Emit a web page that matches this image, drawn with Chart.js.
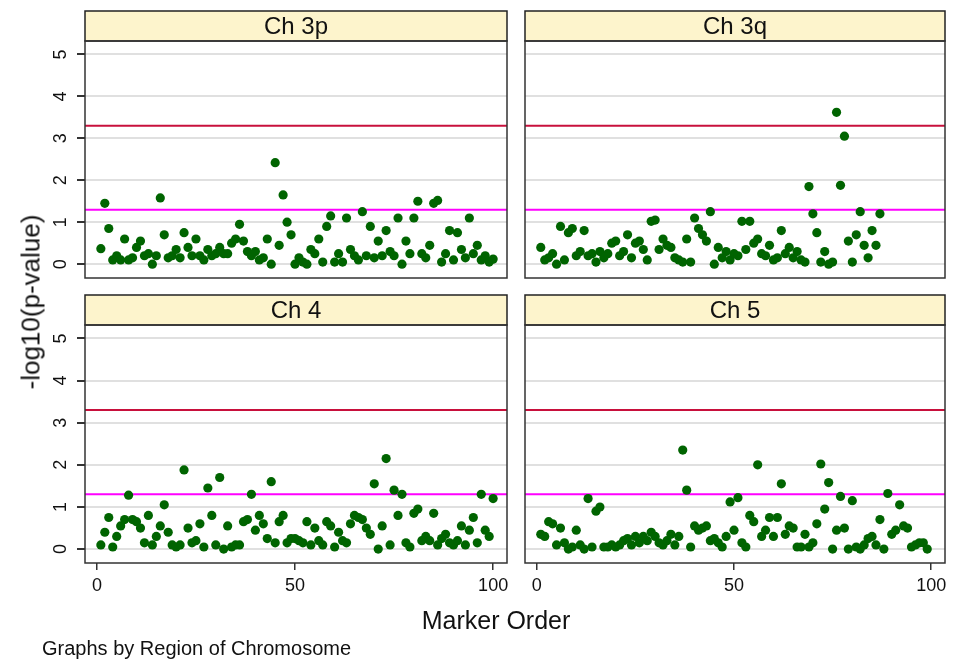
<!DOCTYPE html>
<html>
<head>
<meta charset="utf-8">
<title>Marker order by chromosome region</title>
<script src="https://cdn.jsdelivr.net/npm/chart.js@4.4.1/dist/chart.umd.min.js"></script>
<style>
    body { margin: 0; background: #fff; }
    #wrap { position: relative; width: 953px; height: 660px; font-family: "Liberation Sans", Arial, sans-serif; color: #111; }
    #wrap canvas { position: absolute; left: 0; top: 0; }
    .lbl { position: absolute; white-space: nowrap; }
</style>
</head>
<body>
<div id="wrap">
    <canvas id="c1" width="953" height="660"></canvas>
    <canvas id="c2" width="953" height="660"></canvas>
    <canvas id="c3" width="953" height="660"></canvas>
    <canvas id="c4" width="953" height="660"></canvas>
    <div class="lbl" style="left:31px; top:302px; font-size:26px; transform: translate(-50%, -50%) rotate(-90deg);">-log10(p-value)</div>
    <div class="lbl" style="left:496px; top:620px; font-size:25px; transform: translate(-50%, -50%);">Marker Order</div>
    <div class="lbl" style="left:42px; top:648px; font-size:20px; transform: translateY(-50%);">Graphs by Region of Chromosome</div>
</div>
<script>
// --- Data ---
const panelTitles = ['Ch 3p', 'Ch 3q', 'Ch 4', 'Ch 5'];
const xTicks = [0, 50, 100];
const yTicks = [0, 1, 2, 3, 4, 5];
const thresholds = [1.3, 3.3];

const ch3p = [0.37, 1.45, 0.85, 0.1, 0.2, 0.1, 0.6, 0.1, 0.15, 0.4,
    0.55, 0.2, 0.25, 0.0, 0.2, 1.58, 0.7, 0.15, 0.2, 0.35,
    0.15, 0.75, 0.4, 0.2, 0.6, 0.2, 0.1, 0.35, 0.2, 0.25,
    0.4, 0.25, 0.25, 0.5, 0.6, 0.95, 0.55, 0.3, 0.2, 0.3,
    0.1, 0.15, 0.6, 0.0, 2.42, 0.45, 1.65, 1.0, 0.7, 0.0,
    0.15, 0.05, 0.0, 0.35, 0.25, 0.6, 0.05, 0.9, 1.15, 0.05,
    0.25, 0.05, 1.1, 0.35, 0.2, 0.1, 1.25, 0.2, 0.9, 0.15,
    0.55, 0.2, 0.8, 0.3, 0.2, 1.1, 0.0, 0.55, 0.25, 1.1,
    1.5, 0.25, 0.15, 0.45, 1.45, 1.52, 0.05, 0.25, 0.8, 0.1,
    0.75, 0.35, 0.15, 1.1, 0.25, 0.45, 0.1, 0.2, 0.05, 0.12];

const ch3q = [0.4, 0.1, 0.15, 0.25, 0.0, 0.9, 0.1, 0.75, 0.85, 0.2,
    0.3, 0.8, 0.2, 0.25, 0.05, 0.3, 0.15, 0.25, 0.5, 0.55,
    0.2, 0.3, 0.7, 0.15, 0.5, 0.55, 0.35, 0.1, 1.02, 1.05,
    0.35, 0.6, 0.45, 0.4, 0.15, 0.1, 0.05, 0.6, 0.05, 1.1,
    0.85, 0.7, 0.55, 1.25, 0.0, 0.4, 0.15, 0.3, 0.1, 0.25,
    0.2, 1.02, 0.35, 1.02, 0.5, 0.6, 0.25, 0.2, 0.45, 0.1,
    0.15, 0.8, 0.25, 0.4, 0.15, 0.3, 0.1, 0.05, 1.85, 1.2,
    0.75, 0.05, 0.3, 0.0, 0.05, 3.62, 1.88, 3.05, 0.55, 0.05,
    0.7, 1.25, 0.45, 0.15, 0.8, 0.45, 1.2];

const ch4 = [0.1, 0.4, 0.75, 0.05, 0.3, 0.55, 0.7, 1.28, 0.7, 0.65,
    0.5, 0.15, 0.8, 0.1, 0.3, 0.55, 1.05, 0.4, 0.1, 0.05,
    0.1, 1.88, 0.5, 0.15, 0.2, 0.6, 0.05, 1.45, 0.8, 0.1,
    1.7, 0.0, 0.55, 0.05, 0.1, 0.1, 0.65, 0.7, 1.3, 0.45,
    0.8, 0.6, 0.25, 1.6, 0.15, 0.65, 0.8, 0.15, 0.25, 0.25,
    0.2, 0.15, 0.65, 0.1, 0.5, 0.2, 0.1, 0.65, 0.55, 0.05,
    0.4, 0.2, 0.15, 0.6, 0.8, 0.75, 0.7, 0.5, 0.35, 1.55,
    0.0, 0.55, 2.15, 0.1, 1.4, 0.8, 1.3, 0.15, 0.05, 0.85,
    0.95, 0.2, 0.3, 0.2, 0.85, 0.1, 0.25, 0.35, 0.15, 0.1,
    0.2, 0.55, 0.1, 0.45, 0.75, 0.15, 1.3, 0.45, 0.3, 1.2];

const ch5 = [0.35, 0.3, 0.65, 0.6, 0.1, 0.5, 0.15, 0.0, 0.05, 0.45,
    0.1, 0.0, 1.2, 0.05, 0.9, 1.0, 0.05, 0.05, 0.1, 0.05,
    0.1, 0.2, 0.25, 0.1, 0.3, 0.15, 0.3, 0.2, 0.4, 0.3,
    0.15, 0.1, 0.2, 0.35, 0.1, 0.3, 2.35, 1.4, 0.05, 0.55,
    0.45, 0.5, 0.55, 0.2, 0.25, 0.15, 0.05, 0.3, 1.12, 0.45,
    1.22, 0.15, 0.05, 0.8, 0.65, 2.0, 0.3, 0.45, 0.75, 0.3,
    0.75, 1.55, 0.35, 0.55, 0.5, 0.05, 0.05, 0.35, 0.05, 0.15,
    0.6, 2.02, 0.95, 1.58, 0.0, 0.45, 1.25, 0.5, 0.0, 1.15,
    0.05, 0.0, 0.1, 0.25, 0.3, 0.1, 0.7, 0.0, 1.32, 0.35,
    0.45, 1.05, 0.55, 0.5, 0.05, 0.1, 0.15, 0.15, 0.0];

const panelData = [ch3p, ch3q, ch4, ch5];

// --- Layout / style ---
const FONT = "'Liberation Sans', Arial, sans-serif";
const lineColors = ['#ff00ff', '#c8103c'];
const panels = [
    { id: 'c1', left: true,  bottom: false, area: { l: 85,  r: 507, t: 41,  b: 278 } },
    { id: 'c2', left: false, bottom: false, area: { l: 525, r: 945, t: 41,  b: 278 } },
    { id: 'c3', left: true,  bottom: true,  area: { l: 85,  r: 507, t: 325, b: 563 } },
    { id: 'c4', left: false, bottom: true,  area: { l: 525, r: 945, t: 325, b: 563 } }
];
const STRIP_H = 30;
const X_AXIS_H = 40;

// threshold lines under the points, frame + strip + y labels on top
const panelDecor = {
    id: 'panelDecor',
    beforeDatasetsDraw(chart) {
        const { ctx, chartArea: a, scales: { y } } = chart;
        ctx.save();
        thresholds.forEach((t, i) => {
            const py = y.getPixelForValue(t);
            ctx.strokeStyle = lineColors[i];
            ctx.lineWidth = 2;
            ctx.beginPath();
            ctx.moveTo(a.left, py);
            ctx.lineTo(a.right, py);
            ctx.stroke();
        });
        ctx.restore();
    },
    afterDraw(chart, args, opts) {
        const { ctx, chartArea: a, scales: { y } } = chart;
        ctx.save();
        // strip
        ctx.fillStyle = '#fdf4cc';
        ctx.fillRect(a.left, a.top - STRIP_H, a.right - a.left, STRIP_H);
        ctx.strokeStyle = '#222';
        ctx.lineWidth = 1.5;
        ctx.strokeRect(a.left, a.top - STRIP_H, a.right - a.left, STRIP_H);
        ctx.fillStyle = '#111';
        ctx.font = '24px ' + FONT;
        ctx.textAlign = 'center';
        ctx.textBaseline = 'middle';
        ctx.fillText(opts.title, (a.left + a.right) / 2, a.top - STRIP_H / 2 + 1);
        // frame
        ctx.strokeStyle = '#333';
        ctx.strokeRect(a.left, a.top, a.right - a.left, a.bottom - a.top);
        // rotated y tick labels
        if (opts.left) {
            ctx.font = '18px ' + FONT;
            ctx.fillStyle = '#111';
            yTicks.forEach(v => {
                const py = y.getPixelForValue(v);
                ctx.save();
                ctx.translate(a.left - 24, py);
                ctx.rotate(-Math.PI / 2);
                ctx.textAlign = 'center';
                ctx.textBaseline = 'middle';
                ctx.fillText(String(v), 0, 0);
                ctx.restore();
            });
        }
        ctx.restore();
    }
};

panels.forEach((p, i) => {
    const a = p.area;
    new Chart(document.getElementById(p.id), {
        type: 'scatter',
        data: {
            datasets: [{
                data: panelData[i].map((v, k) => ({ x: k + 1, y: v })),
                backgroundColor: '#006400',
                borderColor: '#006400',
                borderWidth: 0,
                pointRadius: 4.6
            }]
        },
        options: {
            responsive: false,
            animation: false,
            events: [],
            layout: {
                padding: {
                    left: p.left ? 0 : a.l,
                    right: 953 - a.r,
                    top: a.t,
                    bottom: p.bottom ? 660 - a.b - X_AXIS_H : 660 - a.b
                }
            },
            plugins: {
                legend: { display: false },
                tooltip: { enabled: false },
                panelDecor: { title: panelTitles[i], left: p.left }
            },
            scales: {
                x: {
                    type: 'linear',
                    min: -3,
                    max: 103.5,
                    display: p.bottom,
                    afterBuildTicks: s => { s.ticks = xTicks.map(v => ({ value: v })); },
                    afterFit: s => { s.height = p.bottom ? X_AXIS_H : 0; },
                    grid: { drawOnChartArea: false, drawTicks: true, tickLength: 7, tickColor: '#333', lineWidth: 1.5 },
                    border: { display: false },
                    ticks: { color: '#111', font: { family: FONT, size: 18 }, padding: 5, maxRotation: 0 }
                },
                y: {
                    type: 'linear',
                    min: -0.33,
                    max: 5.32,
                    afterBuildTicks: s => { s.ticks = yTicks.map(v => ({ value: v })); },
                    afterFit: s => { s.width = p.left ? a.l : 0; },
                    grid: { color: '#e0e0e0', lineWidth: 2, drawTicks: p.left, tickLength: 8, tickColor: '#333' },
                    border: { display: false },
                    ticks: { display: false }
                }
            }
        },
        plugins: [panelDecor]
    });
});
</script>
</body>
</html>
